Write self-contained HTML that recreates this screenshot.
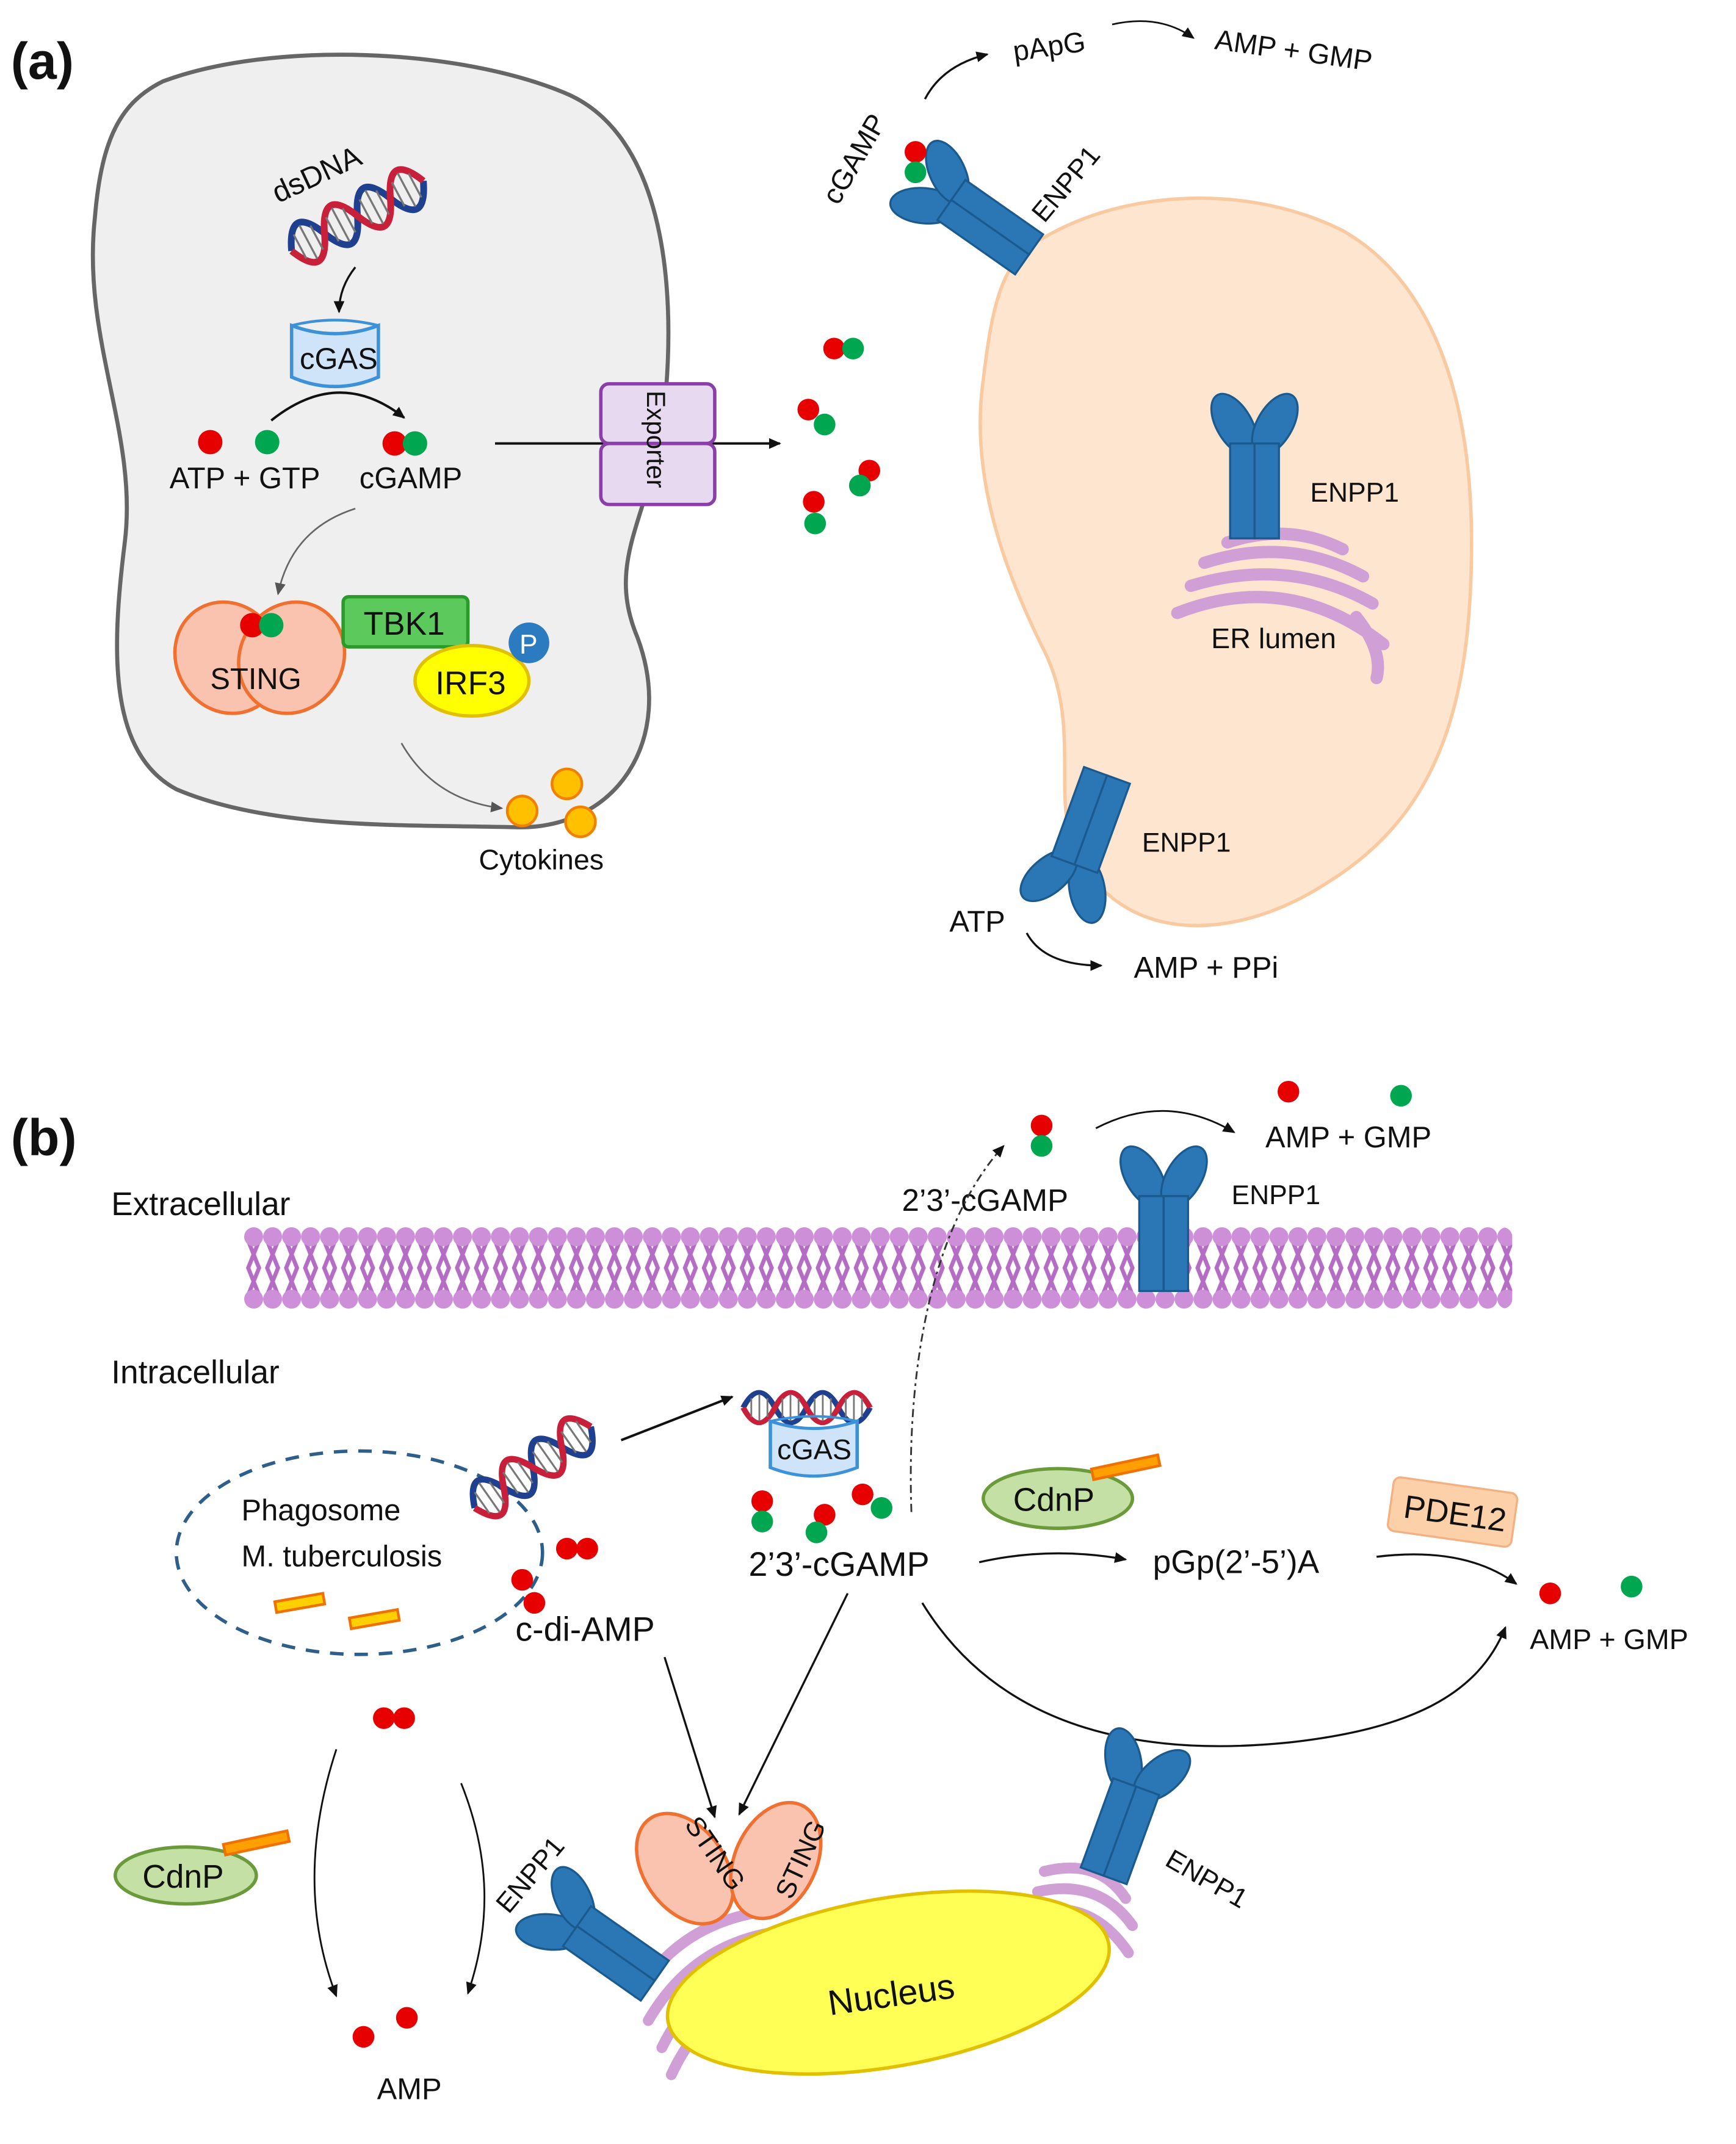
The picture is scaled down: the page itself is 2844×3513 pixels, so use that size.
<!DOCTYPE html>
<html><head><meta charset="utf-8"><style>
html,body{margin:0;padding:0;background:#fff}
svg{display:block}
text{font-family:"Liberation Sans",sans-serif;fill:#111}
</style></head><body>
<svg width="2844" height="3513" viewBox="0 0 1280 1581" xmlns="http://www.w3.org/2000/svg">
<defs>
<marker id="ah" markerWidth="10" markerHeight="10" refX="8" refY="5" orient="auto" markerUnits="userSpaceOnUse">
<path d="M0,1 L9,5 L0,9 Z" fill="#111"/></marker>
<marker id="ahg" markerWidth="10" markerHeight="10" refX="8" refY="5" orient="auto" markerUnits="userSpaceOnUse">
<path d="M0,1 L9,5 L0,9 Z" fill="#555"/></marker>
<g id="enpp">
<ellipse cx="-15" cy="-22" rx="13" ry="25" transform="rotate(-30 -15 -22)" fill="#2b77b5" stroke="#1a5a8e" stroke-width="1.5"/>
<ellipse cx="15" cy="-22" rx="13" ry="25" transform="rotate(30 15 -22)" fill="#2b77b5" stroke="#1a5a8e" stroke-width="1.5"/>
<rect x="-18" y="-8" width="18" height="70" fill="#2b77b5" stroke="#1a5a8e" stroke-width="1.5"/>
<rect x="0" y="-8" width="18" height="70" fill="#2b77b5" stroke="#1a5a8e" stroke-width="1.5"/>
</g>
<g id="dna">
<path d="M0,0 Q13.75,-32 27.5,0 T55,0 T82.5,0 T110,0" fill="none" stroke="#1f3f8f" stroke-width="5"/>
<path d="M0,0 Q13.75,32 27.5,0 T55,0 T82.5,0 T110,0" fill="none" stroke="#c8203a" stroke-width="5"/>
<g stroke="#777" stroke-width="1.5">
<line x1="7" y1="-10" x2="7" y2="10"/><line x1="14" y1="-14" x2="14" y2="14"/><line x1="21" y1="-10" x2="21" y2="10"/>
<line x1="34" y1="-10" x2="34" y2="10"/><line x1="41" y1="-14" x2="41" y2="14"/><line x1="48" y1="-10" x2="48" y2="10"/>
<line x1="62" y1="-10" x2="62" y2="10"/><line x1="69" y1="-14" x2="69" y2="14"/><line x1="76" y1="-10" x2="76" y2="10"/>
<line x1="89" y1="-10" x2="89" y2="10"/><line x1="96" y1="-14" x2="96" y2="14"/><line x1="103" y1="-10" x2="103" y2="10"/>
</g></g>
<g id="cgas">
<path d="M0,0 L0,38 Q32,52 64,38 L64,0 Q32,12 0,0 Z" fill="#cfe4f8" stroke="#3d91d8" stroke-width="2.5"/>
<path d="M0,0 Q32,-8 64,0" fill="none" stroke="#3d91d8" stroke-width="2"/>
</g>
<pattern id="mem" x="180" y="905" width="14" height="60" patternUnits="userSpaceOnUse">
<rect width="14" height="60" fill="#fff"/>
<path d="M3,10 L11,30 L3,50 M11,10 L3,30 L11,50" stroke="#b56cc4" stroke-width="3" fill="none"/>
<circle cx="7" cy="7" r="7" fill="#cc8fd8"/><circle cx="7" cy="53" r="7" fill="#cc8fd8"/>
</pattern>
</defs>

<!-- Panel a -->
<text x="8" y="58" font-size="38" font-weight="bold">(a)</text>
<path d="M120,60 C200,30 340,35 420,70 C485,100 500,200 490,300 C482,380 445,410 470,470 C498,545 455,612 380,610 C300,608 200,612 130,582 C80,555 82,480 92,400 C102,320 60,250 70,160 C75,100 90,75 120,60 Z" fill="#efefef" stroke="#666" stroke-width="3"/>
<text x="205" y="150" font-size="22" transform="rotate(-25 205 150)">dsDNA</text>
<use href="#dna" transform="translate(215,185) rotate(-28)"/>
<path d="M262,197 Q250,212 250,230" fill="none" stroke="#111" stroke-width="1.5" marker-end="url(#ah)"/>
<use href="#cgas" transform="translate(215,240)"/>
<text x="221" y="272" font-size="22">cGAS</text>
<path d="M200,310 Q250,270 298,308" fill="none" stroke="#111" stroke-width="1.8" marker-end="url(#ah)"/>
<circle cx="155" cy="326" r="9" fill="#e60000"/><circle cx="197" cy="326" r="9" fill="#00a650"/>
<circle cx="291" cy="327" r="9" fill="#e60000"/><circle cx="306" cy="327" r="9" fill="#00a650"/>
<text x="125" y="360" font-size="22">ATP + GTP</text>
<text x="265" y="360" font-size="22">cGAMP</text>
<line x1="365" y1="327" x2="575" y2="327" stroke="#111" stroke-width="1.8" marker-end="url(#ah)"/>
<rect x="443" y="283" width="84" height="44" rx="6" fill="#e7d9f0" stroke="#8a3fa8" stroke-width="2.5"/>
<rect x="443" y="327" width="84" height="45" rx="6" fill="#e7d9f0" stroke="#8a3fa8" stroke-width="2.5"/>
<text x="477" y="288" font-size="19" transform="rotate(90 477 288)">Exporter</text>
<path d="M262,375 Q215,390 205,438" fill="none" stroke="#666" stroke-width="1.2" marker-end="url(#ahg)"/>
<ellipse cx="168" cy="485" rx="38" ry="42" transform="rotate(-30 168 485)" fill="#f9c3b0" stroke="#f07030" stroke-width="2.5"/>
<ellipse cx="215" cy="485" rx="38" ry="42" transform="rotate(30 215 485)" fill="#f9c3b0" stroke="#f07030" stroke-width="2.5"/>
<text x="155" y="508" font-size="22">STING</text>
<circle cx="186" cy="461" r="9" fill="#e60000"/><circle cx="200" cy="461" r="9" fill="#00a650"/>
<rect x="253" y="440" width="92" height="37" rx="4" fill="#5cc95c" stroke="#2a9a2a" stroke-width="2.5"/>
<text x="268" y="468" font-size="24">TBK1</text>
<ellipse cx="348" cy="502" rx="42" ry="26" fill="#ffff00" stroke="#e0c000" stroke-width="2.5"/>
<text x="321" y="512" font-size="24">IRF3</text>
<circle cx="390" cy="474" r="15" fill="#2b7bc0"/><text x="383" y="482" font-size="20" style="fill:#fff">P</text>
<path d="M296,548 Q320,590 370,596" fill="none" stroke="#666" stroke-width="1.2" marker-end="url(#ahg)"/>
<circle cx="385" cy="598" r="11" fill="#ffc000" stroke="#f08000" stroke-width="2"/>
<circle cx="418" cy="578" r="11" fill="#ffc000" stroke="#f08000" stroke-width="2"/>
<circle cx="428" cy="606" r="11" fill="#ffc000" stroke="#f08000" stroke-width="2"/>
<text x="353" y="641" font-size="21">Cytokines</text>

<path d="M770,175 C830,140 920,135 990,170 C1060,210 1085,300 1085,400 C1085,520 1060,600 980,650 C920,690 840,700 800,640 C770,600 800,540 770,480 C740,420 715,350 725,280 C732,220 740,190 770,175 Z" fill="#fde5d0" stroke="#f9c9a0" stroke-width="2.5"/>
<use href="#enpp" transform="translate(708,152) rotate(-55)"/>
<text x="770" y="165" font-size="20" transform="rotate(-50 770 165)">ENPP1</text>
<text x="618" y="152" font-size="21" transform="rotate(-60 618 152)">cGAMP</text>
<circle cx="675" cy="112" r="8" fill="#e60000"/><circle cx="675" cy="127" r="8" fill="#00a650"/>
<path d="M682,73 Q695,48 728,40" fill="none" stroke="#111" stroke-width="1.5" marker-end="url(#ah)"/>
<text x="748" y="45" font-size="21" transform="rotate(-8 748 45)">pApG</text>
<path d="M820,18 Q855,10 880,28" fill="none" stroke="#111" stroke-width="1.2" marker-end="url(#ah)"/>
<text x="895" y="36" font-size="21" transform="rotate(8 895 36)">AMP + GMP</text>
<circle cx="615" cy="257" r="8" fill="#e60000"/><circle cx="629" cy="257" r="8" fill="#00a650"/>
<circle cx="596" cy="302" r="8" fill="#e60000"/><circle cx="608" cy="313" r="8" fill="#00a650"/>
<circle cx="641" cy="347" r="8" fill="#e60000"/><circle cx="634" cy="358" r="8" fill="#00a650"/>
<circle cx="600" cy="370" r="8" fill="#e60000"/><circle cx="601" cy="386" r="8" fill="#00a650"/>
<g fill="none" stroke="#cf9fd6" stroke-width="9" stroke-linecap="round">
<path d="M905,400 Q950,385 990,405"/><path d="M888,415 Q950,395 1005,425"/><path d="M878,432 Q950,410 1012,445"/>
<path d="M868,452 Q950,420 1020,475"/><path d="M1000,455 Q1020,480 1015,500"/>
</g>
<use href="#enpp" transform="translate(925,335)"/>
<text x="966" y="370" font-size="20">ENPP1</text>
<text x="893" y="478" font-size="21">ER lumen</text>
<use href="#enpp" transform="translate(795,630) rotate(200)"/>
<text x="842" y="628" font-size="20">ENPP1</text>
<text x="700" y="687" font-size="22">ATP</text>
<path d="M757,688 Q770,712 812,712" fill="none" stroke="#111" stroke-width="1.5" marker-end="url(#ah)"/>
<text x="836" y="721" font-size="22">AMP + PPi</text>

<!-- Panel b -->
<text x="8" y="852" font-size="38" font-weight="bold">(b)</text>
<text x="82" y="896" font-size="24">Extracellular</text>
<text x="82" y="1020" font-size="24">Intracellular</text>
<rect x="180" y="905" width="935" height="60" rx="7" fill="url(#mem)"/>
<use href="#enpp" transform="translate(858,890)"/>
<text x="908" y="888" font-size="20">ENPP1</text>
<text x="665" y="893" font-size="23">2’3’-cGAMP</text>
<circle cx="768" cy="830" r="8" fill="#e60000"/><circle cx="768" cy="845" r="8" fill="#00a650"/>
<path d="M672,1115 C668,1000 690,900 740,845" fill="none" stroke="#333" stroke-width="1.3" stroke-dasharray="6,3,2,3" marker-end="url(#ah)"/>
<path d="M808,832 Q860,805 910,835" fill="none" stroke="#111" stroke-width="1.3" marker-end="url(#ah)"/>
<circle cx="950" cy="805" r="8" fill="#e60000"/><circle cx="1033" cy="808" r="8" fill="#00a650"/>
<text x="933" y="846" font-size="22">AMP + GMP</text>

<ellipse cx="265" cy="1145" rx="135" ry="75" fill="none" stroke="#2e5f8a" stroke-width="2.5" stroke-dasharray="10,8"/>
<text x="178" y="1121" font-size="22">Phagosome</text>
<text x="178" y="1155" font-size="22">M. tuberculosis</text>
<rect x="203" y="1178" width="36" height="8" fill="#ffd000" stroke="#f07000" stroke-width="2" transform="rotate(-10 221 1182)"/>
<rect x="258" y="1190" width="36" height="8" fill="#ffd000" stroke="#f07000" stroke-width="2" transform="rotate(-10 276 1194)"/>
<use href="#dna" transform="translate(350,1112) rotate(-35) scale(0.95)"/>
<line x1="458" y1="1062" x2="540" y2="1030" stroke="#111" stroke-width="1.8" marker-end="url(#ah)"/>
<use href="#dna" transform="translate(548,1038) scale(0.85,0.7)"/>
<use href="#cgas" transform="translate(568,1048) scale(1,0.9)"/>
<text x="573" y="1076" font-size="21">cGAS</text>
<circle cx="562" cy="1107" r="8" fill="#e60000"/><circle cx="562" cy="1122" r="8" fill="#00a650"/>
<circle cx="608" cy="1117" r="8" fill="#e60000"/><circle cx="602" cy="1130" r="8" fill="#00a650"/>
<circle cx="636" cy="1102" r="8" fill="#e60000"/><circle cx="650" cy="1112" r="8" fill="#00a650"/>
<text x="552" y="1162" font-size="25">2’3’-cGAMP</text>
<circle cx="418" cy="1142" r="8" fill="#e60000"/><circle cx="433" cy="1142" r="8" fill="#e60000"/>
<circle cx="385" cy="1165" r="8" fill="#e60000"/><circle cx="394" cy="1182" r="8" fill="#e60000"/>
<text x="380" y="1210" font-size="25">c-di-AMP</text>
<ellipse cx="780" cy="1105" rx="55" ry="22" fill="#c5e0a5" stroke="#6a9a3a" stroke-width="2.5"/>
<text x="747" y="1114" font-size="24">CdnP</text>
<rect x="805" y="1078" width="50" height="8" fill="#ffa000" stroke="#f07000" stroke-width="2" transform="rotate(-12 830 1082)"/>
<path d="M722,1152 Q775,1140 830,1150" fill="none" stroke="#111" stroke-width="1.5" marker-end="url(#ah)"/>
<text x="850" y="1160" font-size="24">pGp(2’-5’)A</text>
<rect x="1025" y="1095" width="92" height="40" rx="5" fill="#fcd0a8" stroke="#f4b080" stroke-width="1.5" transform="rotate(8 1071 1115)"/>
<text x="1035" y="1124" font-size="24" transform="rotate(8 1071 1115)">PDE12</text>
<path d="M1015,1148 Q1080,1140 1118,1168" fill="none" stroke="#111" stroke-width="1.5" marker-end="url(#ah)"/>
<circle cx="1143" cy="1175" r="8" fill="#e60000"/><circle cx="1203" cy="1170" r="8" fill="#00a650"/>
<text x="1128" y="1216" font-size="21">AMP + GMP</text>
<path d="M680,1182 C740,1280 850,1295 950,1285 C1040,1275 1090,1250 1110,1200" fill="none" stroke="#111" stroke-width="1.5" marker-end="url(#ah)"/>
<line x1="490" y1="1222" x2="527" y2="1340" stroke="#111" stroke-width="1.5" marker-end="url(#ah)"/>
<line x1="625" y1="1175" x2="545" y2="1338" stroke="#111" stroke-width="1.5" marker-end="url(#ah)"/>
<circle cx="283" cy="1267" r="8" fill="#e60000"/><circle cx="298" cy="1267" r="8" fill="#e60000"/>
<path d="M248,1290 C225,1360 228,1420 248,1472" fill="none" stroke="#111" stroke-width="1.3" marker-end="url(#ah)"/>
<path d="M340,1315 C362,1370 362,1420 345,1470" fill="none" stroke="#111" stroke-width="1.3" marker-end="url(#ah)"/>
<ellipse cx="137" cy="1383" rx="52" ry="21" fill="#c5e0a5" stroke="#6a9a3a" stroke-width="2.5"/>
<text x="105" y="1392" font-size="24">CdnP</text>
<rect x="165" y="1355" width="48" height="8" fill="#ffa000" stroke="#f07000" stroke-width="2" transform="rotate(-12 189 1359)"/>
<text x="375" y="1412" font-size="20" transform="rotate(-50 375 1412)">ENPP1</text>
<circle cx="268" cy="1502" r="8" fill="#e60000"/><circle cx="300" cy="1488" r="8" fill="#e60000"/>
<text x="278" y="1548" font-size="22">AMP</text>

<g fill="none" stroke="#cf9fd6" stroke-width="8" stroke-linecap="round">
<path d="M470,1470 Q500,1420 560,1410"/><path d="M478,1490 Q510,1435 570,1425"/><path d="M488,1510 Q515,1455 575,1440"/>
<path d="M495,1530 Q520,1475 580,1458"/>
<path d="M770,1380 Q810,1370 830,1400"/><path d="M765,1395 Q810,1385 835,1420"/><path d="M762,1410 Q805,1400 832,1440"/>
</g>
<ellipse cx="655" cy="1462" rx="165" ry="62" transform="rotate(-10 655 1462)" fill="#ffff55" stroke="#e0c000" stroke-width="2.5"/>
<text x="610" y="1480" font-size="26" transform="rotate(-8 655 1470)">Nucleus</text>
<ellipse cx="505" cy="1378" rx="30" ry="45" transform="rotate(-35 505 1378)" fill="#f9c3b0" stroke="#f07030" stroke-width="2.5"/>
<ellipse cx="572" cy="1372" rx="30" ry="45" transform="rotate(25 572 1372)" fill="#f9c3b0" stroke="#f07030" stroke-width="2.5"/>
<text x="478" y="1360" font-size="20" transform="rotate(55 505 1378)">STING</text>
<text x="550" y="1395" font-size="20" transform="rotate(-65 572 1372)">STING</text>
<use href="#enpp" transform="translate(432,1425) rotate(-55)"/>
<use href="#enpp" transform="translate(835,1325) rotate(20)"/>
<text x="858" y="1375" font-size="20" transform="rotate(30 858 1375)">ENPP1</text>
</svg>
</body></html>
